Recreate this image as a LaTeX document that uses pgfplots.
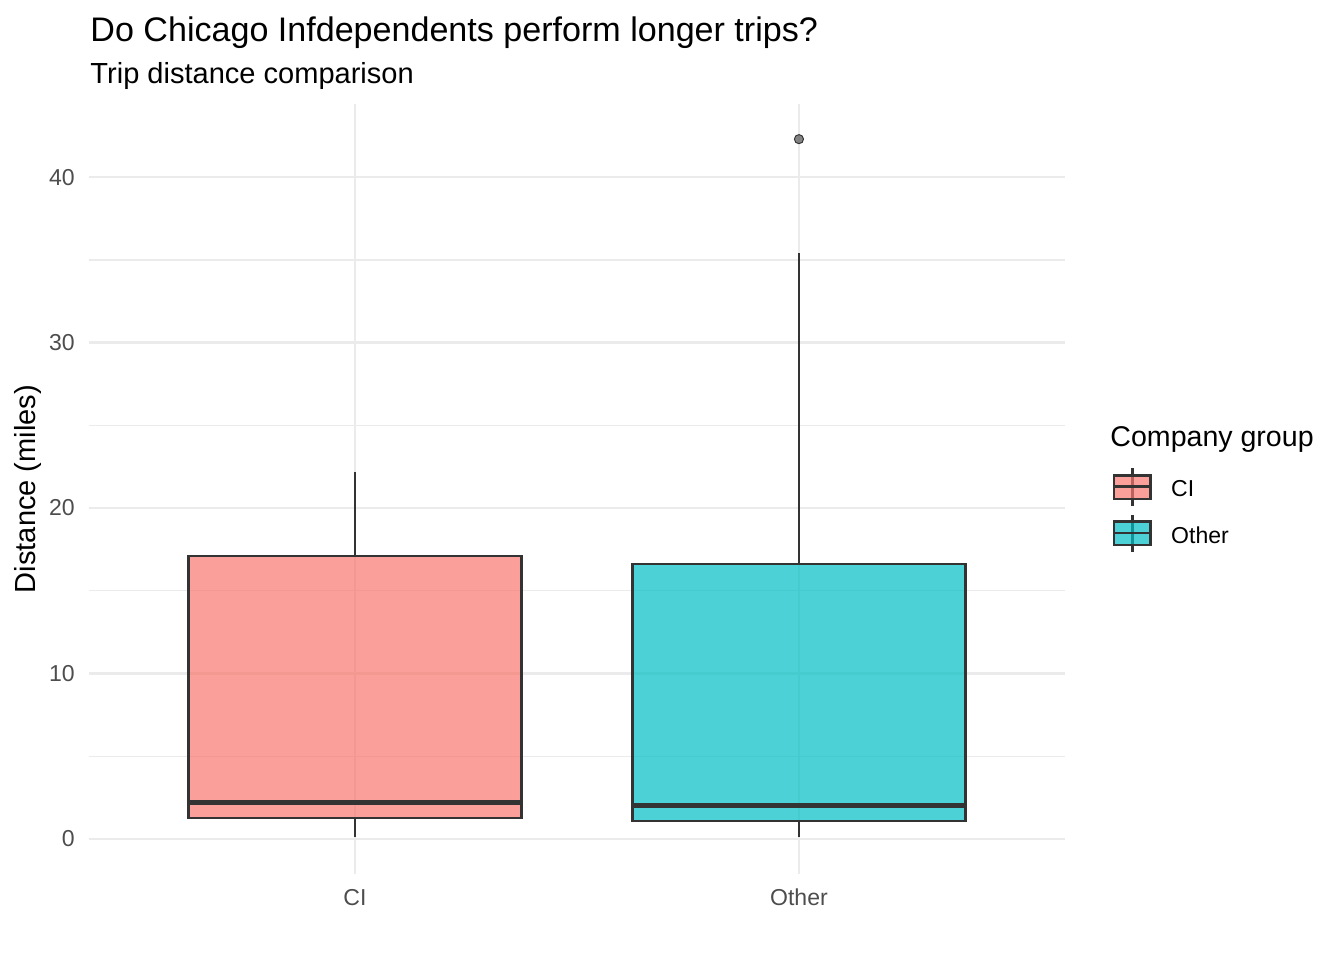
\documentclass[border=0pt]{standalone}
\usepackage{fontspec}
\setmainfont{Liberation Sans}
\usepackage{pgfplots}
\pgfplotsset{compat=1.18}
\usepgfplotslibrary{statistics}
\definecolor{cired}{HTML}{F8766D}
\definecolor{otcyan}{HTML}{00BFC4}
\definecolor{gridc}{HTML}{EBEBEB}
\definecolor{boxc}{HTML}{333333}
\definecolor{tickc}{HTML}{4D4D4D}
\begin{document}
\begin{tikzpicture}
\path (-36.9pt,-35.9pt) rectangle (523.1pt,364.1pt);
\begin{axis}[
  at={(0pt,0pt)}, anchor=south west,
  scale only axis, width=407pt, height=320.7pt,
  xmin=-0.6, xmax=1.6, ymin=-2.115, ymax=44.415,
  xtick={0,1}, xticklabels={CI,Other},
  ytick={0,10,20,30,40}, minor ytick={5,15,25,35},
  xmajorgrids, ymajorgrids, yminorgrids,
  major grid style={gridc, line width=1.07pt},
  minor grid style={gridc, line width=0.53pt},
  axis line style={draw=none},
  major tick length=0pt, minor tick length=0pt,
  tick style={draw=none},
  /pgf/number format/assume math mode=true,
  ticklabel style={font=\fontsize{9.6}{11}\selectfont, text=tickc, inner sep=0pt},
  yticklabel style={anchor=east, xshift=-5.6pt},
  xticklabel style={anchor=base, yshift=-13.2pt},
  boxplot/draw direction=y,
  boxplot/every median/.style={line width=2.13pt},
]
\addplot[boxplot prepared={draw position=0, lower whisker=0.1, lower quartile=1.25,
  median=2.18, upper quartile=17.1, upper whisker=22.2, box extend=0.75, whisker extend=0},
  draw=boxc, line width=1.07pt, fill=cired, fill opacity=0.7] coordinates {};
\addplot[boxplot prepared={draw position=1, lower whisker=0.1, lower quartile=1.09,
  median=1.99, upper quartile=16.62, upper whisker=35.4, box extend=0.75, whisker extend=0},
  draw=boxc, line width=1.07pt, fill=otcyan, fill opacity=0.7] coordinates {};
\addplot[only marks, mark=*, mark size=1.9pt, mark options={fill=boxc!75, draw=boxc, line width=0.4pt, fill opacity=0.8}] coordinates {(1,42.3)};
\end{axis}
% titles
\node[anchor=base west, inner sep=0pt, font=\fontsize{14.2}{16}\selectfont] at (0.6pt,347pt) {Do Chicago Infdependents perform longer trips?};
\node[anchor=base west, inner sep=0pt, font=\fontsize{12.1}{14}\selectfont] at (0.6pt,329.4pt) {Trip distance comparison};
\node[rotate=90, inner sep=0pt, font=\fontsize{12.1}{14}\selectfont] at (-25.3pt,160.35pt) {Distance (miles)};
% legend
\node[anchor=base west, inner sep=0pt, font=\fontsize{11.9}{14}\selectfont] at (425.6pt,178pt) {Company group};
\draw[boxc, line width=1.07pt] (434.9pt,153.4pt) -- (434.9pt,169.1pt);
\draw[boxc, line width=1.07pt, fill=cired, fill opacity=0.7] (427.25pt,156.2pt) rectangle (442.5pt,165.9pt);
\draw[boxc, line width=1.07pt] (427.25pt,161.3pt) -- (442.5pt,161.3pt);
\draw[boxc, line width=1.07pt] (434.9pt,134.2pt) -- (434.9pt,149.5pt);
\draw[boxc, line width=1.07pt, fill=otcyan, fill opacity=0.7] (427.25pt,137pt) rectangle (442.5pt,146.7pt);
\draw[boxc, line width=1.07pt] (427.25pt,142.1pt) -- (442.5pt,142.1pt);
\node[anchor=base west, inner sep=0pt, font=\fontsize{9.6}{11}\selectfont] at (450.9pt,157.1pt) {CI};
\node[anchor=base west, inner sep=0pt, font=\fontsize{9.6}{11}\selectfont] at (450.9pt,137.7pt) {Other};
\end{tikzpicture}
\end{document}
